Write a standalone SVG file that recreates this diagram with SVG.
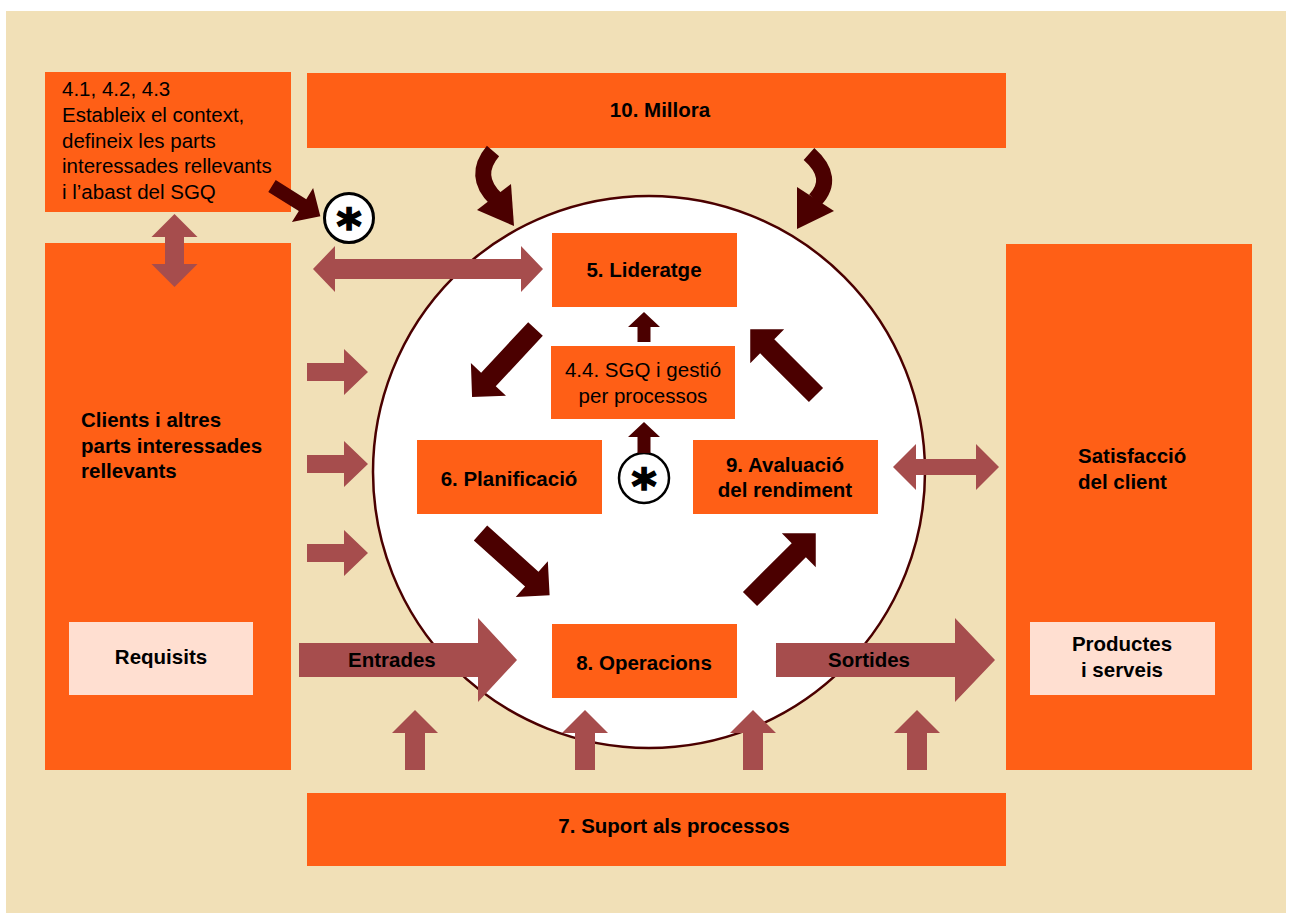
<svg xmlns="http://www.w3.org/2000/svg" width="1292" height="918" viewBox="0 0 1292 918">
<style>
.box{fill:#FF5F16;}
.light{fill:#FFDFD1;}
.t{font-family:"Liberation Sans",Arial,sans-serif;font-size:20.5px;fill:#000;}
.b{font-weight:bold;}
.m{text-anchor:middle;}
.ar{fill:#A64D4D;}
.dk{fill:#4B0000;}
.ast{font-family:"DejaVu Sans",sans-serif;font-weight:bold;font-size:48px;text-anchor:middle;fill:#000;stroke:#000;stroke-width:1.6;}
</style>
<rect width="1292" height="918" fill="#FFFFFF"/>
<rect x="6" y="11" width="1280" height="902" fill="#F1E0B7"/>

<g id="context">
<rect class="box" x="45" y="72" width="246" height="140"/>
<text class="t" x="62" y="96">4.1, 4.2, 4.3</text>
<text class="t" x="62" y="122">Estableix el context,</text>
<text class="t" x="62" y="148">defineix les parts</text>
<text class="t" x="62" y="173">interessades rellevants</text>
<text class="t" x="62" y="199">i l’abast del SGQ</text>
</g>

<g id="millora">
<rect class="box" x="307" y="73" width="699" height="75"/>
<text class="t b m" x="660" y="117">10. Millora</text>
</g>

<g id="clients">
<rect class="box" x="45" y="243" width="246" height="527"/>
<text class="t b" x="81" y="427">Clients i altres</text>
<text class="t b" x="81" y="453">parts interessades</text>
<text class="t b" x="81" y="478">rellevants</text>
</g>
<g id="requisits">
<rect class="light" x="69" y="622" width="184" height="73"/>
<text class="t b m" x="161" y="664">Requisits</text>
</g>

<g id="satisfaccio">
<rect class="box" x="1006" y="244" width="246" height="526"/>
<text class="t b" x="1078" y="463">Satisfacció</text>
<text class="t b" x="1078" y="489">del client</text>
</g>
<g id="productes">
<rect class="light" x="1030" y="622" width="185" height="73"/>
<text class="t b m" x="1122" y="651">Productes</text>
<text class="t b m" x="1122" y="677">i serveis</text>
</g>

<g id="suport">
<rect class="box" x="307" y="793" width="699" height="73"/>
<text class="t b m" x="674" y="833">7. Suport als processos</text>
</g>

<g id="cycle">
<circle cx="649" cy="472" r="276" fill="#FFFFFF" stroke="#4B0000" stroke-width="2.5"/>
</g>

<g id="lideratge">
<rect class="box" x="552" y="233" width="185" height="74"/>
<text class="t b m" x="644" y="277">5. Lideratge</text>
</g>
<g id="sgq">
<rect class="box" x="551" y="346" width="184" height="73"/>
<text class="t m" x="643" y="377">4.4. SGQ i gestió</text>
<text class="t m" x="643" y="403">per processos</text>
</g>
<g id="planificacio">
<rect class="box" x="417" y="440" width="185" height="74"/>
<text class="t b m" x="509" y="486">6. Planificació</text>
</g>
<g id="avaluacio">
<rect class="box" x="693" y="440" width="185" height="74"/>
<text class="t b m" x="785" y="472">9. Avaluació</text>
<text class="t b m" x="785" y="497">del rendiment</text>
</g>
<g id="operacions">
<rect class="box" x="552" y="624" width="185" height="74"/>
<text class="t b m" x="644" y="670">8. Operacions</text>
</g>

<g id="asterisk1">
<circle cx="349" cy="218" r="24.5" fill="#FFFFFF" stroke="#000" stroke-width="3"/>
<text class="ast" x="349" y="243">*</text>
</g>
<g id="asterisk2">
<circle cx="644" cy="478" r="25" fill="#FFFFFF" stroke="#000" stroke-width="2.5"/>
<text class="ast" x="644" y="503">*</text>
</g>

<g id="connectors">
<!-- curved arrows from Millora -->
<path d="M493,151 Q472,176 496,199" fill="none" stroke="#4B0000" stroke-width="16"/>
<polygon class="dk" points="477,210 511,184 514,226"/>
<path d="M809,154 Q836,178 815,200" fill="none" stroke="#4B0000" stroke-width="16"/>
<polygon class="dk" points="797,187 834,211 797,229"/>

<!-- context to asterisk -->
<polygon class="dk" transform="translate(272,186) rotate(32)" points="0,-7 36,-7 36,-20 57,0 36,20 36,7 0,7"/>

<!-- double arrows -->
<polygon class="ar" points="174.5,214 197.5,237 184,237 184,264 197.5,264 174.5,287 151.5,264 165,264 165,237 151.5,237"/>
<polygon class="ar" points="313,269 335,246 335,259 521,259 521,246 543,269 521,292 521,279 335,279 335,292"/>
<polygon class="ar" points="893,467 916,444 916,459 976,459 976,444 999,467 976,490 976,475 916,475 916,490"/>

<!-- left inputs -->
<polygon class="ar" points="307,363 344,363 344,349 368,372 344,395 344,381 307,381"/>
<polygon class="ar" points="307,455 344,455 344,441 368,464 344,487 344,473 307,473"/>
<polygon class="ar" points="307,544 344,544 344,530 368,553 344,576 344,562 307,562"/>

<!-- entrades / sortides -->
<polygon class="ar" points="299,643 478,643 478,618 517,660 478,702 478,677 299,677"/>
<text class="t b" x="348" y="667">Entrades</text>
<polygon class="ar" points="776,643 955,643 955,618 995,660 955,702 955,677 776,677"/>
<text class="t b" x="828" y="667">Sortides</text>

<!-- support up arrows -->
<polygon class="ar" points="405,770 405,733 392,733 415,710 438,733 425,733 425,770"/>
<polygon class="ar" points="575,770 575,733 562,733 585,710 608,733 595,733 595,770"/>
<polygon class="ar" points="743,770 743,733 730,733 753,710 776,733 763,733 763,770"/>
<polygon class="ar" points="907,770 907,733 894,733 917,710 940,733 927,733 927,770"/>

<!-- inner cycle arrows -->
<polygon class="dk" points="637.5,342 637.5,327 628,327 644,312 660,327 650.5,327 650.5,342"/>
<polygon class="dk" points="637.5,453 637.5,437 628,437 644,422 660,437 650.5,437 650.5,453"/>
<polygon class="dk" transform="translate(535.5,329) rotate(133)" points="0,-10 69,-10 69,-24 93,0 69,24 69,10 0,10"/>
<polygon class="dk" transform="translate(816,395) rotate(-135)" points="0,-10 69,-10 69,-24 93,0 69,24 69,10 0,10"/>
<polygon class="dk" transform="translate(480.5,533) rotate(42)" points="0,-10 69,-10 69,-24 93,0 69,24 69,10 0,10"/>
<polygon class="dk" transform="translate(750,599) rotate(-45)" points="0,-10 69,-10 69,-24 93,0 69,24 69,10 0,10"/>
</g>
</svg>
